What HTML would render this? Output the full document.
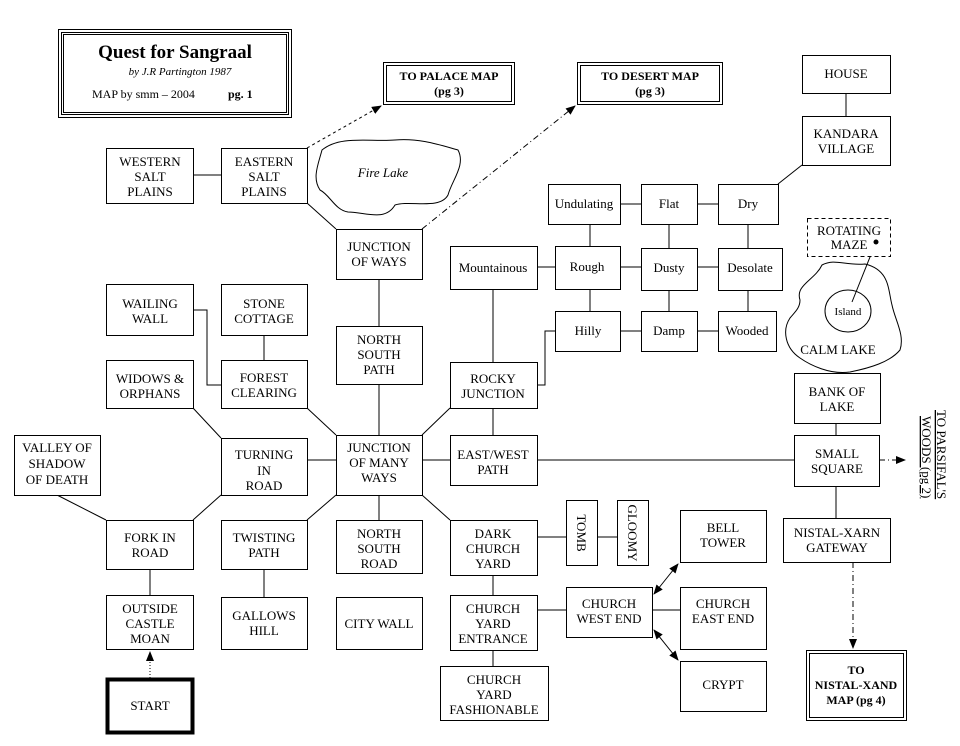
<!DOCTYPE html>
<html><head><meta charset="utf-8"><style>
body{margin:0;background:#fff}
svg{display:block}
text{font-family:"Liberation Serif",serif;font-size:13px;fill:#000}
.b{fill:#fff;stroke:#000;stroke-width:1}
line,polyline,path{stroke:#000;stroke-width:1;fill:none}
</style></head><body>
<svg width="960" height="746" viewBox="0 0 960 746" xmlns="http://www.w3.org/2000/svg">
<defs><marker id="a" markerWidth="10" markerHeight="8" refX="9" refY="4" orient="auto-start-reverse" markerUnits="userSpaceOnUse"><path d="M0,0 L10,4 L0,8 Z" style="fill:#000;stroke:none"/></marker></defs>
<line x1="193" y1="175" x2="221" y2="175"/>
<line x1="307" y1="203" x2="336" y2="229"/>
<line x1="379" y1="279" x2="379" y2="326"/>
<line x1="379" y1="384" x2="379" y2="435"/>
<line x1="307" y1="408" x2="336" y2="435"/>
<line x1="450" y1="408" x2="422" y2="435"/>
<line x1="307" y1="520" x2="336" y2="495"/>
<line x1="450" y1="520" x2="422" y2="495"/>
<line x1="193" y1="408" x2="221" y2="438"/>
<line x1="193" y1="520" x2="221" y2="495"/>
<line x1="57" y1="495" x2="106" y2="520"/>
<line x1="307" y1="460" x2="336" y2="460"/>
<line x1="422" y1="460" x2="450" y2="460"/>
<line x1="537" y1="460" x2="794" y2="460"/>
<line x1="493" y1="408" x2="493" y2="435"/>
<line x1="493" y1="289" x2="493" y2="362"/>
<polyline points="537,385 545,385 545,331 555,331"/>
<line x1="537" y1="267" x2="555" y2="267"/>
<line x1="620" y1="267" x2="641" y2="267"/>
<line x1="697" y1="267" x2="718" y2="267"/>
<line x1="620" y1="204" x2="641" y2="204"/>
<line x1="697" y1="204" x2="718" y2="204"/>
<line x1="590" y1="224" x2="590" y2="246"/>
<line x1="669" y1="224" x2="669" y2="248"/>
<line x1="748" y1="224" x2="748" y2="248"/>
<line x1="590" y1="289" x2="590" y2="311"/>
<line x1="669" y1="290" x2="669" y2="311"/>
<line x1="748" y1="290" x2="748" y2="311"/>
<line x1="620" y1="331" x2="641" y2="331"/>
<line x1="697" y1="331" x2="718" y2="331"/>
<line x1="778" y1="184" x2="802" y2="165"/>
<line x1="846" y1="93" x2="846" y2="116"/>
<polyline points="193,310 207,310 207,385 221,385"/>
<line x1="264" y1="335" x2="264" y2="360"/>
<line x1="264" y1="569" x2="264" y2="597"/>
<line x1="379" y1="495" x2="379" y2="520"/>
<line x1="150" y1="569" x2="150" y2="595"/>
<line x1="150" y1="678" x2="150" y2="652" stroke-dasharray="1,2" marker-end="url(#a)"/>
<line x1="493" y1="575" x2="493" y2="595"/>
<line x1="493" y1="650" x2="493" y2="666"/>
<line x1="537" y1="537" x2="566" y2="537"/>
<line x1="597" y1="537" x2="617" y2="537"/>
<line x1="537" y1="610" x2="566" y2="610"/>
<line x1="652" y1="610" x2="680" y2="610"/>
<line x1="654" y1="594" x2="678" y2="564" marker-start="url(#a)" marker-end="url(#a)"/>
<line x1="654" y1="630" x2="678" y2="660" marker-start="url(#a)" marker-end="url(#a)"/>
<line x1="836" y1="423" x2="836" y2="435"/>
<line x1="836" y1="486" x2="836" y2="518"/>
<line x1="853" y1="562" x2="853" y2="648" stroke-dasharray="6,3,1,3" marker-end="url(#a)"/>
<line x1="879" y1="460" x2="905" y2="460" stroke-dasharray="6,3,1,3" marker-end="url(#a)"/>
<line x1="307" y1="148" x2="381" y2="106" stroke-dasharray="3,3" marker-end="url(#a)"/>
<line x1="422" y1="229" x2="575" y2="106" stroke-dasharray="6,3,1,3" marker-end="url(#a)"/>
<rect x="58.5" y="29.5" width="233" height="88" class="b"/>
<rect x="61.5" y="32.5" width="227" height="82" class="b"/>
<rect x="63.5" y="34.5" width="223" height="78" class="b"/>
<text x="175" y="58" text-anchor="middle" style="font-size:19px;font-weight:bold">Quest for Sangraal</text>
<text x="180" y="75" text-anchor="middle" style="font-size:11px;font-style:italic">by J.R Partington  1987</text>
<text x="92" y="98" style="font-size:12px">MAP by smm – 2004</text>
<text x="228" y="98" style="font-size:12px;font-weight:bold">pg. 1</text>
<rect x="383.5" y="62.5" width="131" height="42" class="b"/><rect x="386.5" y="65.5" width="125" height="36" class="b"/>
<text x="449" y="80" text-anchor="middle" style="font-size:12px;font-weight:bold">TO PALACE MAP</text>
<text x="449" y="95" text-anchor="middle" style="font-size:12px;font-weight:bold">(pg 3)</text>
<rect x="577.5" y="62.5" width="145" height="42" class="b"/><rect x="580.5" y="65.5" width="139" height="36" class="b"/>
<text x="650" y="80" text-anchor="middle" style="font-size:12px;font-weight:bold">TO DESERT MAP</text>
<text x="650" y="95" text-anchor="middle" style="font-size:12px;font-weight:bold">(pg 3)</text>
<rect x="806.5" y="650.5" width="100" height="70" class="b"/><rect x="809.5" y="653.5" width="94" height="64" class="b"/>
<text x="856" y="674" text-anchor="middle" style="font-size:12px;font-weight:bold">TO</text>
<text x="856" y="689" text-anchor="middle" style="font-size:12px;font-weight:bold">NISTAL-XAND</text>
<text x="856" y="704" text-anchor="middle" style="font-size:12px;font-weight:bold">MAP   (pg 4)</text>
<rect x="107.5" y="679.5" width="85" height="53" class="b" style="stroke-width:4"/>
<text x="150" y="710" text-anchor="middle">START</text>
<path d="M322,150 C340,135 370,142 395,140 C420,138 440,145 458,150 C466,165 452,180 448,195 C440,210 410,200 395,205 C385,222 365,212 348,212 C335,210 330,195 320,190 C312,178 318,165 322,150 Z" class="b"/>
<text x="383" y="177" text-anchor="middle" style="font-style:italic">Fire Lake</text>
<path d="M800,300 C795,285 815,280 822,265 C835,258 845,266 865,264 C890,270 888,290 892,305 C895,320 905,335 900,350 C890,362 870,368 850,372 C830,375 810,365 800,358 C785,348 782,330 790,318 C795,312 800,308 800,300 Z" class="b"/>
<ellipse cx="848" cy="311" rx="23" ry="21" class="b"/>
<text x="848" y="315" text-anchor="middle" style="font-size:11px">Island</text>
<text x="838" y="354" text-anchor="middle">CALM LAKE</text>
<line x1="876" y1="242" x2="852" y2="302"/>
<rect x="807.5" y="218.5" width="83" height="38" class="b" style="stroke-dasharray:4,3"/>
<text x="849" y="235" text-anchor="middle">ROTATING</text>
<text x="849" y="249" text-anchor="middle">MAZE</text>
<circle cx="876" cy="242" r="2.5" fill="#000"/>
<g id="boxes">
<rect x="802.5" y="55.5" width="88" height="38" class="b"/><text x="846" y="78" text-anchor="middle">HOUSE</text>
<rect x="802.5" y="116.5" width="88" height="49" class="b"/><text x="846" y="138" text-anchor="middle">KANDARA</text><text x="846" y="153" text-anchor="middle">VILLAGE</text>
<rect x="106.5" y="148.5" width="87" height="55" class="b"/><text x="150" y="166" text-anchor="middle">WESTERN</text><text x="150" y="181" text-anchor="middle">SALT</text><text x="150" y="196" text-anchor="middle">PLAINS</text>
<rect x="221.5" y="148.5" width="86" height="55" class="b"/><text x="264" y="166" text-anchor="middle">EASTERN</text><text x="264" y="181" text-anchor="middle">SALT</text><text x="264" y="196" text-anchor="middle">PLAINS</text>
<rect x="336.5" y="229.5" width="86" height="50" class="b"/><text x="379" y="251" text-anchor="middle">JUNCTION</text><text x="379" y="266" text-anchor="middle">OF WAYS</text>
<rect x="548.5" y="184.5" width="72" height="40" class="b"/><text x="584" y="208" text-anchor="middle">Undulating</text>
<rect x="641.5" y="184.5" width="56" height="40" class="b"/><text x="669" y="208" text-anchor="middle">Flat</text>
<rect x="718.5" y="184.5" width="60" height="40" class="b"/><text x="748" y="208" text-anchor="middle">Dry</text>
<rect x="450.5" y="246.5" width="87" height="43" class="b"/><text x="493" y="272" text-anchor="middle">Mountainous</text>
<rect x="555.5" y="246.5" width="65" height="43" class="b"/><text x="587" y="271" text-anchor="middle">Rough</text>
<rect x="641.5" y="248.5" width="56" height="42" class="b"/><text x="669" y="272" text-anchor="middle">Dusty</text>
<rect x="718.5" y="248.5" width="64" height="42" class="b"/><text x="750" y="272" text-anchor="middle">Desolate</text>
<rect x="555.5" y="311.5" width="65" height="40" class="b"/><text x="588" y="335" text-anchor="middle">Hilly</text>
<rect x="641.5" y="311.5" width="56" height="40" class="b"/><text x="669" y="335" text-anchor="middle">Damp</text>
<rect x="718.5" y="311.5" width="58" height="40" class="b"/><text x="747" y="335" text-anchor="middle">Wooded</text>
<rect x="106.5" y="284.5" width="87" height="51" class="b"/><text x="150" y="308" text-anchor="middle">WAILING</text><text x="150" y="323" text-anchor="middle">WALL</text>
<rect x="221.5" y="284.5" width="86" height="51" class="b"/><text x="264" y="308" text-anchor="middle">STONE</text><text x="264" y="323" text-anchor="middle">COTTAGE</text>
<rect x="336.5" y="326.5" width="86" height="58" class="b"/><text x="379" y="344" text-anchor="middle">NORTH</text><text x="379" y="359" text-anchor="middle">SOUTH</text><text x="379" y="374" text-anchor="middle">PATH</text>
<rect x="450.5" y="362.5" width="87" height="46" class="b"/><text x="493" y="383" text-anchor="middle">ROCKY</text><text x="493" y="398" text-anchor="middle">JUNCTION</text>
<rect x="106.5" y="360.5" width="87" height="48" class="b"/><text x="150" y="383" text-anchor="middle">WIDOWS &amp;</text><text x="150" y="398" text-anchor="middle">ORPHANS</text>
<rect x="221.5" y="360.5" width="86" height="48" class="b"/><text x="264" y="382" text-anchor="middle">FOREST</text><text x="264" y="397" text-anchor="middle">CLEARING</text>
<rect x="794.5" y="373.5" width="86" height="50" class="b"/><text x="837" y="396" text-anchor="middle">BANK OF</text><text x="837" y="411" text-anchor="middle">LAKE</text>
<rect x="14.5" y="435.5" width="86" height="60" class="b"/><text x="57" y="452" text-anchor="middle">VALLEY OF</text><text x="57" y="468" text-anchor="middle">SHADOW</text><text x="57" y="484" text-anchor="middle">OF DEATH</text>
<rect x="221.5" y="438.5" width="86" height="57" class="b"/><text x="264" y="459" text-anchor="middle">TURNING</text><text x="264" y="475" text-anchor="middle">IN</text><text x="264" y="490" text-anchor="middle">ROAD</text>
<rect x="336.5" y="435.5" width="86" height="60" class="b"/><text x="379" y="452" text-anchor="middle">JUNCTION</text><text x="379" y="467" text-anchor="middle">OF MANY</text><text x="379" y="482" text-anchor="middle">WAYS</text>
<rect x="450.5" y="435.5" width="87" height="50" class="b"/><text x="493" y="459" text-anchor="middle">EAST/WEST</text><text x="493" y="474" text-anchor="middle">PATH</text>
<rect x="794.5" y="435.5" width="85" height="51" class="b"/><text x="837" y="458" text-anchor="middle">SMALL</text><text x="837" y="473" text-anchor="middle">SQUARE</text>
<rect x="106.5" y="520.5" width="87" height="49" class="b"/><text x="150" y="542" text-anchor="middle">FORK IN</text><text x="150" y="557" text-anchor="middle">ROAD</text>
<rect x="221.5" y="520.5" width="86" height="49" class="b"/><text x="264" y="542" text-anchor="middle">TWISTING</text><text x="264" y="557" text-anchor="middle">PATH</text>
<rect x="336.5" y="520.5" width="86" height="53" class="b"/><text x="379" y="538" text-anchor="middle">NORTH</text><text x="379" y="553" text-anchor="middle">SOUTH</text><text x="379" y="568" text-anchor="middle">ROAD</text>
<rect x="450.5" y="520.5" width="87" height="55" class="b"/><text x="493" y="538" text-anchor="middle">DARK</text><text x="493" y="553" text-anchor="middle">CHURCH</text><text x="493" y="568" text-anchor="middle">YARD</text>
<rect x="566.5" y="500.5" width="31" height="65" class="b"/><text transform="translate(577,533) rotate(90)" text-anchor="middle">TOMB</text>
<rect x="617.5" y="500.5" width="31" height="65" class="b"/><text transform="translate(628,533) rotate(90)" text-anchor="middle">GLOOMY</text>
<rect x="680.5" y="510.5" width="86" height="52" class="b"/><text x="723" y="532" text-anchor="middle">BELL</text><text x="723" y="547" text-anchor="middle">TOWER</text>
<rect x="783.5" y="518.5" width="107" height="44" class="b"/><text x="837" y="537" text-anchor="middle">NISTAL-XARN</text><text x="837" y="552" text-anchor="middle">GATEWAY</text>
<rect x="106.5" y="595.5" width="87" height="54" class="b"/><text x="150" y="613" text-anchor="middle">OUTSIDE</text><text x="150" y="628" text-anchor="middle">CASTLE</text><text x="150" y="643" text-anchor="middle">MOAN</text>
<rect x="221.5" y="597.5" width="86" height="52" class="b"/><text x="264" y="620" text-anchor="middle">GALLOWS</text><text x="264" y="635" text-anchor="middle">HILL</text>
<rect x="336.5" y="597.5" width="86" height="52" class="b"/><text x="379" y="628" text-anchor="middle">CITY WALL</text>
<rect x="450.5" y="595.5" width="87" height="55" class="b"/><text x="493" y="613" text-anchor="middle">CHURCH</text><text x="493" y="628" text-anchor="middle">YARD</text><text x="493" y="643" text-anchor="middle">ENTRANCE</text>
<rect x="566.5" y="587.5" width="86" height="50" class="b"/><text x="609" y="608" text-anchor="middle">CHURCH</text><text x="609" y="623" text-anchor="middle">WEST END</text>
<rect x="680.5" y="587.5" width="86" height="62" class="b"/><text x="723" y="608" text-anchor="middle">CHURCH</text><text x="723" y="623" text-anchor="middle">EAST END</text>
<rect x="680.5" y="661.5" width="86" height="50" class="b"/><text x="723" y="689" text-anchor="middle">CRYPT</text>
<rect x="440.5" y="666.5" width="108" height="54" class="b"/><text x="494" y="684" text-anchor="middle">CHURCH</text><text x="494" y="699" text-anchor="middle">YARD</text><text x="494" y="714" text-anchor="middle">FASHIONABLE</text>
</g>
<text transform="translate(937,410) rotate(90)" style="text-decoration:underline">TO  PARSIFAL'S</text>
<text transform="translate(922,416) rotate(90)" style="text-decoration:underline">WOODS  (pg 2)</text>
</svg>
</body></html>
